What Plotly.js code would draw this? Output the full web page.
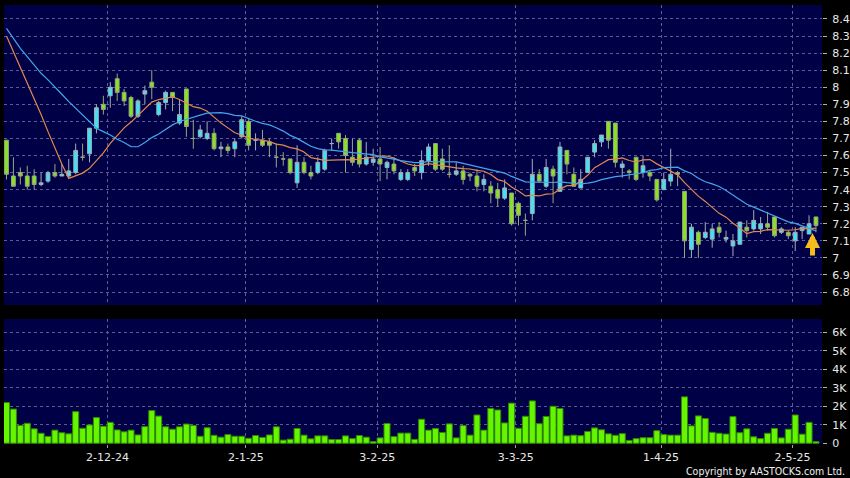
<!DOCTYPE html>
<html>
<head>
<meta charset="utf-8">
<script src="https://cdn.plot.ly/plotly-3.0.1.min.js"></script>
<style>
  html, body { margin: 0; padding: 0; background: #000000; }
  #chart { width: 850px; height: 478px; }
</style>
</head>
<body>
<div id="chart"></div>
<script>
// ---- Data ----
var dates = [
  '2024-11-11','2024-11-12','2024-11-13','2024-11-14','2024-11-15','2024-11-18','2024-11-19','2024-11-20','2024-11-21','2024-11-22',
  '2024-11-25','2024-11-26','2024-11-27','2024-11-28','2024-11-29',
  '2024-12-02','2024-12-03','2024-12-04','2024-12-05','2024-12-06','2024-12-09','2024-12-10','2024-12-11','2024-12-12','2024-12-13',
  '2024-12-16','2024-12-17','2024-12-18','2024-12-19','2024-12-20','2024-12-23','2024-12-24','2024-12-27','2024-12-30','2024-12-31',
  '2025-01-02','2025-01-03','2025-01-06','2025-01-07','2025-01-08','2025-01-09','2025-01-10','2025-01-13','2025-01-14','2025-01-15',
  '2025-01-16','2025-01-17','2025-01-20','2025-01-21','2025-01-22','2025-01-23','2025-01-24','2025-01-27','2025-01-28',
  '2025-02-03','2025-02-04','2025-02-05','2025-02-06','2025-02-07','2025-02-10','2025-02-11','2025-02-12','2025-02-13','2025-02-14',
  '2025-02-17','2025-02-18','2025-02-19','2025-02-20','2025-02-21','2025-02-24','2025-02-25','2025-02-26','2025-02-27','2025-02-28',
  '2025-03-03','2025-03-04','2025-03-05','2025-03-06','2025-03-07','2025-03-10','2025-03-11','2025-03-12','2025-03-13','2025-03-14',
  '2025-03-17','2025-03-18','2025-03-19','2025-03-20','2025-03-21','2025-03-24','2025-03-25','2025-03-26','2025-03-27','2025-03-28','2025-03-31',
  '2025-04-01','2025-04-02','2025-04-03','2025-04-07','2025-04-08','2025-04-09','2025-04-10','2025-04-11','2025-04-14','2025-04-15',
  '2025-04-16','2025-04-17','2025-04-22','2025-04-23','2025-04-24','2025-04-25','2025-04-28','2025-04-29','2025-04-30',
  '2025-05-02','2025-05-06','2025-05-07','2025-05-08'
];

var openP = [
  7.69,7.48,7.50,7.48,7.48,7.43,7.45,7.50,7.48,7.48,
  7.50,7.59,7.61,7.76,7.90,7.95,8.05,7.97,7.94,7.83,
  7.96,8.03,7.84,7.91,7.97,7.79,7.99,7.70,7.71,7.70,
  7.73,7.64,7.65,7.64,7.71,7.80,7.69,7.69,7.68,7.59,
  7.58,7.58,7.44,7.56,7.50,7.50,7.52,7.67,7.73,7.70,
  7.59,7.69,7.55,7.56,7.58,7.53,7.55,7.46,7.46,7.53,
  7.50,7.57,7.67,7.58,7.49,7.49,7.51,7.49,7.48,7.43,
  7.42,7.40,7.35,7.38,7.32,7.22,7.26,7.49,7.42,7.52,
  7.39,7.63,7.49,7.41,7.50,7.62,7.68,7.80,7.79,7.53,
  7.51,7.59,7.50,7.50,7.46,7.40,7.45,7.50,7.39,7.05,
  7.15,7.12,7.11,7.18,7.11,7.07,7.08,7.18,7.17,7.17,
  7.20,7.24,7.15,7.15,7.10,7.16,7.14,7.24
];
var highP = [
  7.69,7.59,7.53,7.54,7.52,7.50,7.51,7.55,7.55,7.58,
  7.67,7.67,7.76,7.90,7.95,8.03,8.08,7.99,7.95,7.93,
  8.01,8.10,7.92,7.98,7.97,7.93,7.99,7.81,7.78,7.80,
  7.76,7.68,7.67,7.70,7.83,7.82,7.73,7.75,7.70,7.67,
  7.62,7.58,7.66,7.59,7.54,7.59,7.64,7.70,7.73,7.72,
  7.70,7.70,7.68,7.64,7.65,7.57,7.59,7.52,7.52,7.55,
  7.63,7.67,7.67,7.64,7.66,7.56,7.54,7.50,7.52,7.49,
  7.45,7.44,7.46,7.38,7.33,7.26,7.58,7.52,7.58,7.54,
  7.68,7.63,7.53,7.52,7.59,7.69,7.72,7.80,7.79,7.57,
  7.52,7.59,7.60,7.51,7.46,7.50,7.64,7.51,7.39,7.20,
  7.16,7.21,7.20,7.21,7.16,7.14,7.21,7.22,7.28,7.24,
  7.27,7.24,7.18,7.16,7.18,7.18,7.25,7.24
];
var lowP = [
  7.46,7.42,7.43,7.40,7.40,7.42,7.44,7.47,7.48,7.47,
  7.49,7.57,7.56,7.73,7.84,7.88,7.92,7.89,7.82,7.82,
  7.90,7.93,7.83,7.87,7.86,7.78,7.71,7.64,7.70,7.69,
  7.63,7.59,7.61,7.59,7.70,7.63,7.63,7.65,7.59,7.53,
  7.54,7.49,7.41,7.49,7.46,7.49,7.51,7.63,7.64,7.50,
  7.54,7.53,7.54,7.54,7.45,7.46,7.49,7.45,7.45,7.48,
  7.46,7.54,7.51,7.51,7.47,7.48,7.43,7.45,7.39,7.39,
  7.32,7.30,7.34,7.19,7.19,7.13,7.22,7.44,7.41,7.32,
  7.39,7.49,7.42,7.41,7.50,7.59,7.65,7.64,7.53,7.47,
  7.46,7.45,7.47,7.45,7.33,7.40,7.42,7.42,7.00,7.00,
  7.00,7.11,7.06,7.12,7.09,7.01,7.08,7.12,7.16,7.14,
  7.16,7.12,7.14,7.11,7.04,7.11,7.14,7.15
];
var closeP = [
  7.49,7.42,7.48,7.42,7.43,7.44,7.50,7.48,7.49,7.51,
  7.63,7.59,7.76,7.88,7.87,8.00,7.97,7.92,7.83,7.92,
  7.98,8.00,7.91,7.97,7.94,7.84,7.77,7.70,7.75,7.73,
  7.64,7.65,7.63,7.68,7.81,7.66,7.69,7.66,7.66,7.59,
  7.58,7.50,7.56,7.50,7.48,7.56,7.63,7.67,7.68,7.60,
  7.56,7.55,7.59,7.58,7.55,7.56,7.51,7.50,7.50,7.51,
  7.57,7.65,7.52,7.52,7.49,7.51,7.46,7.48,7.42,7.46,
  7.38,7.35,7.41,7.20,7.25,7.22,7.49,7.45,7.53,7.48,
  7.65,7.55,7.42,7.46,7.59,7.67,7.72,7.69,7.56,7.55,
  7.50,7.46,7.54,7.48,7.34,7.46,7.49,7.49,7.10,7.18,
  7.08,7.15,7.17,7.15,7.12,7.10,7.21,7.16,7.22,7.20,
  7.18,7.13,7.17,7.13,7.15,7.18,7.20,7.19
];
var volume = [
  2200,1850,960,1080,780,540,370,710,570,510,
  1710,810,990,1390,920,1130,720,620,710,450,
  900,1770,1470,890,760,890,1040,960,380,840,
  430,330,470,380,380,270,420,310,450,890,
  170,220,800,440,240,400,400,200,200,400,
  250,420,330,90,290,1070,360,550,550,210,
  1300,710,800,580,1050,290,960,440,1530,710,
  1880,1800,1100,2170,810,1460,2290,1060,1450,2000,
  1880,400,440,410,640,830,730,510,430,520,
  150,250,300,300,680,470,440,440,2510,940,
  1480,1340,590,540,500,1440,570,780,350,250,
  540,800,290,760,1530,490,1130,90
];
// moving-average values before enough in-window closes exist
var ma10Early = [8.30,8.21,8.12,8.02,7.93,7.84,7.74,7.64,7.55];
var ma20Early = [8.345,8.287,8.228,8.18,8.13,8.082,8.043,8.004,7.959,7.916,
                 7.877,7.832,7.793,7.76,7.74,7.72,7.695,7.676,7.652];

var tickDates = ['2024-12-02','2025-01-02','2025-02-03','2025-03-03','2025-04-01','2025-05-02'];
var tickLabels = ['2-12-24','2-1-25','3-2-25','3-3-25','1-4-25','2-5-25'];
var priceTicks = [6.8,6.9,7.0,7.1,7.2,7.3,7.4,7.5,7.6,7.7,7.8,7.9,8.0,8.1,8.2,8.3,8.4];
var priceTickText = ['6.8','6.9','7','7.1','7.2','7.3','7.4','7.5','7.6','7.7','7.8','7.9','8','8.1','8.2','8.3','8.4'];
var volTicks = [0,1000,2000,3000,4000,5000,6000];
var volTickText = ['0','1K','2K','3K','4K','5K','6K'];

// ---- Derived ----
var idx = dates.map(function (d, i) { return i; });
function sma(arr, n, early) {
  return arr.map(function (v, i) {
    if (i < n - 1) return early[i];
    var s = 0;
    for (var k = i - n + 1; k <= i; k++) s += arr[k];
    return s / n;
  });
}
var ma10 = sma(closeP, 10, ma10Early);
var ma20 = sma(closeP, 20, ma20Early);
var tickPos = tickDates.map(function (d) { return dates.indexOf(d) - 0.4; });

var gridCol = '#5c5c90';
var txtFont = { family: 'DejaVu Sans, Verdana, sans-serif', size: 11, color: '#e8e8e8' };

var traces = [
  {
    type: 'candlestick', x: idx, open: openP, high: highP, low: lowP, close: closeP,
    xaxis: 'x', yaxis: 'y',
    increasing: { line: { color: '#a2aeb8', width: 1 }, fillcolor: '#3ae6f6' },
    decreasing: { line: { color: '#98a880', width: 1 }, fillcolor: '#88e41e' },
    whiskerwidth: 0, hoverinfo: 'skip', showlegend: false
  },
  {
    type: 'scatter', mode: 'lines', x: idx, y: ma10, xaxis: 'x', yaxis: 'y',
    line: { color: '#e4874e', width: 1.2 }, hoverinfo: 'skip', showlegend: false
  },
  {
    type: 'scatter', mode: 'lines', x: idx, y: ma20, xaxis: 'x', yaxis: 'y',
    line: { color: '#42a6ea', width: 1.2 }, hoverinfo: 'skip', showlegend: false
  },
  {
    type: 'bar', x: idx, y: volume, xaxis: 'x', yaxis: 'y2',
    marker: { color: '#66f500', line: { color: '#2e8a00', width: 1 } },
    hoverinfo: 'skip', showlegend: false
  }
];

var layout = {
  width: 850, height: 478,
  margin: { l: 4, r: 28, t: 5, b: 34, pad: 0 },
  paper_bgcolor: '#000000',
  plot_bgcolor: '#000046',
  showlegend: false,
  bargap: 0.13,
  boxgap: 0.22,
  font: txtFont,
  xaxis: {
    type: 'linear', range: [-0.36, 117.87], anchor: 'y2',
    tickmode: 'array', tickvals: tickPos, ticktext: tickLabels,
    showgrid: true, gridcolor: gridCol, griddash: '3px,3px', gridwidth: 1,
    ticks: 'outside', ticklen: 3, tickcolor: '#a0a0a0',
    tickfont: txtFont, zeroline: false, showline: false,
    rangeslider: { visible: false }, fixedrange: true
  },
  yaxis: {
    domain: [0.3166, 1], range: [6.724, 8.482], side: 'right',
    tickmode: 'array', tickvals: priceTicks, ticktext: priceTickText,
    showgrid: true, gridcolor: gridCol, griddash: '3px,3px', gridwidth: 1,
    ticks: 'outside', ticklen: 4, tickcolor: '#b0b0b0', ticklabelstandoff: 3,
    tickfont: txtFont, zeroline: false, showline: false, fixedrange: true
  },
  yaxis2: {
    domain: [0, 0.2847], range: [-40, 6720], side: 'right', anchor: 'x',
    tickmode: 'array', tickvals: volTicks, ticktext: volTickText,
    showgrid: true, gridcolor: gridCol, griddash: '3px,3px', gridwidth: 1,
    ticks: 'outside', ticklen: 4, tickcolor: '#b0b0b0', ticklabelstandoff: 3,
    tickfont: txtFont, zeroline: false, showline: false, fixedrange: true
  },
  annotations: [
    {
      xref: 'paper', yref: 'paper', x: 1, y: 0, xanchor: 'right', yanchor: 'middle',
      xshift: 25, yshift: -27, showarrow: false,
      text: 'Copyright by AASTOCKS.com Ltd.',
      font: { family: 'DejaVu Sans Condensed, DejaVu Sans, sans-serif', size: 10.5, color: '#f0f0f0' }
    },
    {
      xref: 'x', yref: 'y', x: 116.5, y: 7.146, text: '',
      showarrow: true, arrowhead: 2, arrowsize: 0.6, arrowwidth: 5,
      arrowcolor: '#f5bd1c', ax: 0, ay: 24, standoff: 0
    }
  ]
};

Plotly.newPlot('chart', traces, layout, { staticPlot: true, displayModeBar: false });
</script>
</body>
</html>
